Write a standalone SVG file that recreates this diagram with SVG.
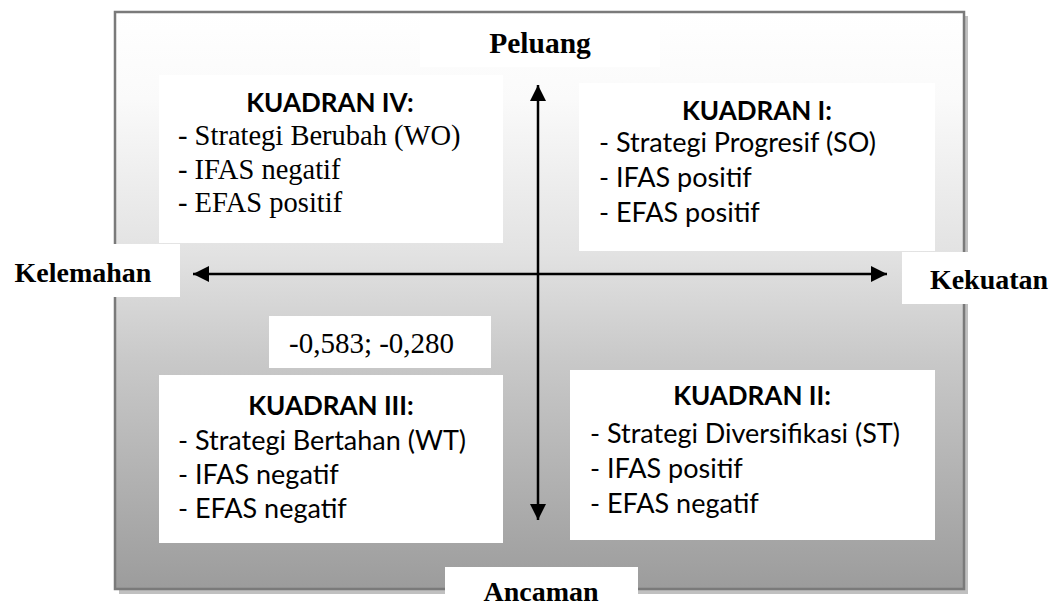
<svg xmlns="http://www.w3.org/2000/svg" width="1054" height="606" viewBox="0 0 1054 606">
<style>
.box{fill:#ffffff}
.title{font-family:Lato,"Noto Sans",sans-serif;font-weight:bold;font-size:26px;fill:#000;text-anchor:middle}
.item{font-family:Lato,"Noto Sans",sans-serif;font-size:27px;fill:#000}
.titem{font-family:"Liberation Serif","Times New Roman",serif;font-size:28.5px;fill:#000}
.axis{font-family:"Liberation Serif","Times New Roman",serif;font-weight:bold;font-size:28px;fill:#000;text-anchor:middle}
.coord{font-family:"Liberation Serif","Times New Roman",serif;font-size:29px;fill:#000}
.ax{stroke:#000;stroke-width:2.5;fill:none}
</style>
<defs>
<linearGradient id="bg" x1="0" y1="0" x2="0" y2="1">
<stop offset="0" stop-color="#ffffff"/>
<stop offset="0.15" stop-color="#fafafa"/>
<stop offset="0.42" stop-color="#e2e2e2"/>
<stop offset="0.6" stop-color="#c9c9c9"/>
<stop offset="1" stop-color="#9c9c9c"/>
</linearGradient>
<marker id="ah" viewBox="0 0 10 10" refX="10" refY="5" markerWidth="6.4" markerHeight="6.4" markerUnits="strokeWidth" orient="auto-start-reverse">
<path d="M0,0 L10,5 L0,10 z" fill="#000"/>
</marker>
</defs>
<rect x="0" y="0" width="1054" height="606" fill="#ffffff"/>
<g id="frame">
<rect x="119" y="16" width="849" height="578" fill="#c0c0c0"/>
<rect x="115" y="12" width="849" height="577" fill="url(#bg)" stroke="#7a7a7a" stroke-width="2.5"/>
</g>
<g id="connectors">
<line class="ax" x1="538" y1="300" x2="538" y2="85" marker-end="url(#ah)"/>
<line class="ax" x1="538" y1="300" x2="538" y2="520" marker-end="url(#ah)"/>
<line class="ax" x1="193" y1="274" x2="887" y2="274" marker-end="url(#ah)" marker-start="url(#ah)"/>
</g>
<g id="peluang">
<rect class="box" x="420" y="20" width="240" height="47"/>
<text class="axis" x="540" y="53" style="font-size:29.5px">Peluang</text>
</g>
<g id="kelemahan">
<rect class="box" x="0" y="244" width="180" height="53"/>
<text class="axis" x="83" y="282">Kelemahan</text>
</g>
<g id="kekuatan">
<rect class="box" x="902" y="252" width="152" height="52"/>
<text class="axis" x="989" y="289">Kekuatan</text>
</g>
<g id="ancaman">
<rect class="box" x="445" y="567" width="193" height="39"/>
<text class="axis" x="541" y="601">Ancaman</text>
</g>
<g id="kuadran4">
<rect class="box" x="159" y="75" width="344" height="168"/>
<text class="title" x="330" y="112">KUADRAN IV:</text>
<text class="titem" x="178" y="145">- Strategi Berubah (WO)</text>
<text class="titem" x="178" y="179">- IFAS negatif</text>
<text class="titem" x="178" y="212">- EFAS positif</text>
</g>
<g id="kuadran1">
<rect class="box" x="579" y="83" width="356" height="168"/>
<text class="title" x="757" y="120">KUADRAN I:</text>
<text class="item" x="599" y="152">- Strategi Progresif (SO)</text>
<text class="item" x="599" y="187">- IFAS positif</text>
<text class="item" x="599" y="222">- EFAS positif</text>
</g>
<g id="koordinat">
<rect class="box" x="269" y="316" width="222" height="52"/>
<text class="coord" x="289" y="353">-0,583; -0,280</text>
</g>
<g id="kuadran3">
<rect class="box" x="159" y="375" width="344" height="168"/>
<text class="title" x="331" y="415">KUADRAN III:</text>
<text class="item" x="178" y="450">- Strategi Bertahan (WT)</text>
<text class="item" x="178" y="484">- IFAS negatif</text>
<text class="item" x="178" y="518">- EFAS negatif</text>
</g>
<g id="kuadran2">
<rect class="box" x="570" y="370" width="365" height="170"/>
<text class="title" x="752" y="405">KUADRAN II:</text>
<text class="item" x="590" y="443">- Strategi Diversifikasi (ST)</text>
<text class="item" x="590" y="478">- IFAS positif</text>
<text class="item" x="590" y="513">- EFAS negatif</text>
</g>
</svg>
